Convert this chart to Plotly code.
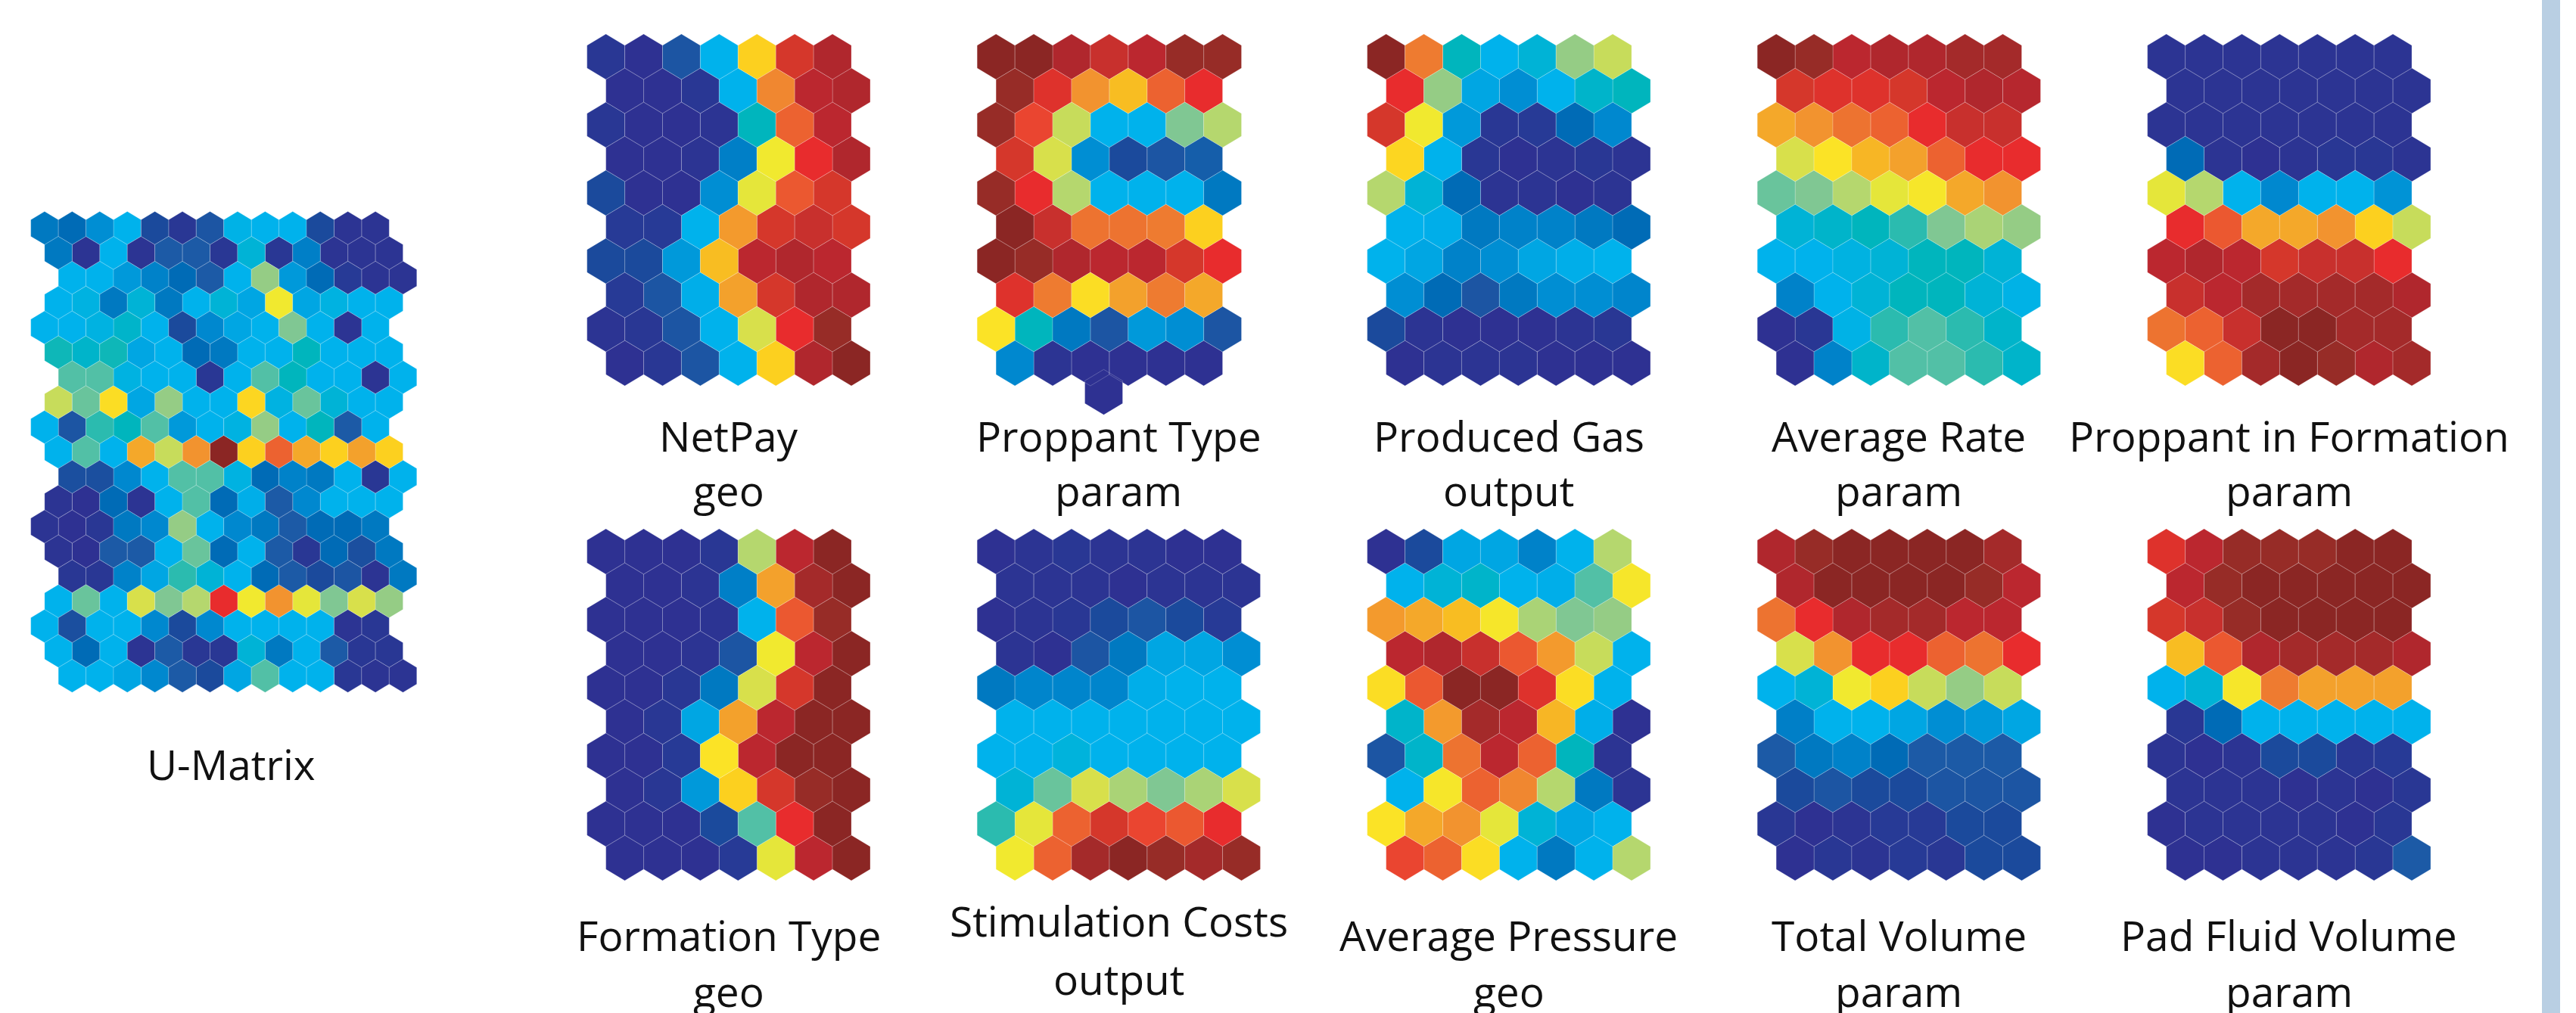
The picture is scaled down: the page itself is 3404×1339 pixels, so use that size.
import plotly.graph_objects as go

W, H = 3404, 1339

# ---------------------------------------------------------------------------
# Data: SOM component planes (10 rows x 7 nodes, hexagonal lattice) and the
# U-matrix (19 x 13).  Values are normalised 0..100 on a jet-like scale.
# None marks a node that is not drawn.
# ---------------------------------------------------------------------------
plane_titles = ["NetPay", "Proppant Type", "Produced Gas", "Average Rate",
                "Proppant in Formation", "Formation Type", "Stimulation Costs",
                "Average Pressure", "Total Volume", "Pad Fluid Volume"]
plane_kinds = ["geo", "param", "output", "param", "param",
               "geo", "output", "geo", "param", "param"]

netpay = [
    [2, 0, 10, 32, 69, 90, 96],
    [0, 0, 2, 32, 79, 94, 96],
    [2, 0, 0, 1, 40, 83, 94],
    [0, 0, 1, 20, 64, 88, 96],
    [8, 0, 0, 24, 62, 84, 90],
    [3, 3, 32, 77, 90, 92, 90],
    [8, 8, 26, 72, 94, 96, 94],
    [3, 10, 31, 76, 90, 96, 96],
    [1, 2, 10, 32, 60, 88, 98.5],
    [0, 2, 10, 32, 69, 96, 100],
]
proppant_type = [
    [100, 100, 96, 92, 94, 98.5, 98.5],
    [98.5, 89, 78, 72, 83, 88, None],
    [98.5, 86, 58, 32, 32, 50, 56],
    [90, 60, 24, 8, 10, 12, None],
    [98.5, 88, 56, 32, 32, 32, 18],
    [100, 92, 81, 81, 80, 69, None],
    [100, 98.5, 96, 94, 94, 90, 88],
    [89, 80, 67, 76, 80, 75, None],
    [66, 40, 18, 10, 26, 24, 10],
    [23, 1, 0, 0, 0, 0, 0],
]
produced_gas = [
    [100, 80, 40, 32, 36, 53, 58],
    [88, 53, 29, 24, 32, 38, 40],
    [90, 64, 26, 2, 3, 15, 23],
    [68, 32, 2, 0, 1, 2, 1],
    [56, 36, 15, 1, 1, 0, 1],
    [32, 31, 18, 21, 21, 18, 15],
    [32, 29, 21, 24, 29, 31, 32],
    [24, 15, 10, 18, 24, 24, 22],
    [8, 1, 0, 0, 0, 1, 2],
    [0, 1, 1, 1, 0, 0, 0],
]
average_rate = [
    [100, 98.5, 94, 96, 96, 97, 97],
    [90, 89, 89, 90, 94, 96, 95],
    [75, 78, 81, 83, 88, 92, 92],
    [60, 66, 73, 76, 83, 88, 88],
    [48, 50, 56, 62, 65, 75, 78],
    [36, 38, 40, 43, 50, 55, 53],
    [32, 32, 34, 36, 40, 40, 36],
    [21, 32, 36, 40, 40, 36, 33],
    [0, 2, 33, 43, 46, 43, 38],
    [0, 21, 38, 46, 46, 43, 38],
]
proppant_in_formation = [
    [1, 1, 1, 1, 1, 1, 1],
    [1, 1, 1, 1, 1, 1, 1],
    [1, 1, 1, 1, 1, 1, 1],
    [15, 1, 0, 1, 2, 2, 1],
    [62, 56, 32, 23, 32, 32, 25],
    [88, 84, 75, 75, 78, 69, 58],
    [94, 96, 94, 90, 92, 92, 88],
    [92, 94, 97, 97, 97, 97, 96],
    [81, 83, 92, 100, 100, 97, 97],
    [67, 83, 97, 100, 98.5, 96, 97],
]
formation_type = [
    [0, 0, 0, 2, 56, 94, 100],
    [0, 0, 1, 20, 76, 97, 100],
    [0, 0, 0, 1, 32, 84, 98.5],
    [0, 0, 1, 10, 64, 94, 100],
    [0, 0, 2, 18, 60, 90, 100],
    [0, 2, 29, 76, 94, 100, 100],
    [0, 0, 3, 66, 94, 100, 100],
    [0, 2, 26, 69, 90, 98.5, 100],
    [0, 0, 0, 8, 46, 88, 100],
    [0, 0, 0, 3, 62, 94, 100],
]
stimulation_costs = [
    [0, 1, 2, 1, 1, 0, 0],
    [1, 1, 1, 0, 1, 1, 1],
    [0, 1, 2, 8, 10, 8, 3],
    [1, 0, 10, 18, 29, 29, 24],
    [18, 22, 22, 22, 31, 32, 32],
    [32, 32, 32, 32, 32, 32, 32],
    [32, 32, 35, 32, 32, 32, 32],
    [36, 48, 60, 55, 50, 55, 60],
    [43, 62, 83, 90, 86, 84, 88],
    [64, 83, 97, 100, 98.5, 97, 98.5],
]
average_pressure = [
    [0, 8, 29, 29, 21, 32, 56],
    [32, 36, 38, 32, 31, 46, 65],
    [77, 75, 72, 65, 55, 50, 53],
    [94, 96, 92, 84, 77, 58, 32],
    [67, 84, 100, 100, 89, 67, 32],
    [38, 77, 97, 94, 73, 31, 0],
    [10, 38, 81, 94, 83, 40, 1],
    [32, 65, 83, 79, 56, 18, 1],
    [66, 75, 78, 62, 36, 29, 32],
    [86, 83, 67, 32, 18, 32, 56],
]
total_volume = [
    [96, 98.5, 100, 100, 100, 100, 97],
    [96, 100, 100, 100, 100, 98.5, 94],
    [81, 88, 96, 97, 97, 94, 94],
    [60, 78, 88, 88, 83, 81, 88],
    [32, 36, 64, 69, 58, 53, 58],
    [20, 32, 32, 29, 24, 26, 29],
    [11, 18, 21, 15, 11, 11, 11],
    [8, 10, 8, 8, 10, 10, 10],
    [2, 0, 1, 3, 3, 8, 8],
    [0, 2, 1, 3, 2, 8, 8],
]
pad_fluid_volume = [
    [89, 94, 98.5, 98.5, 98.5, 100, 100],
    [94, 98.5, 100, 100, 100, 100, 100],
    [90, 92, 98.5, 100, 100, 100, 100],
    [72, 84, 96, 97, 97, 97, 96],
    [32, 36, 65, 80, 76, 76, 76],
    [2, 15, 32, 32, 32, 32, 32],
    [1, 0, 1, 8, 8, 2, 3],
    [1, 1, 1, 0, 1, 0, 2],
    [0, 1, 1, 1, 1, 0, 2],
    [0, 0, 1, 1, 1, 2, 11],
]
planes = [netpay, proppant_type, produced_gas, average_rate, proppant_in_formation,
          formation_type, stimulation_costs, average_pressure, total_volume,
          pad_fluid_volume]

u_matrix = [
    [18, 15, 24, 32, 8, 2, 10, 33, 32, 32, 8, 1, 1],
    [18, 1, 32, 1, 11, 11, 2, 36, 2, 20, 1, 1, 1],
    [32, 32, 26, 21, 15, 11, 32, 53, 26, 15, 3, 1, 1],
    [32, 34, 18, 36, 18, 32, 36, 29, 64, 29, 34, 32, 32],
    [32, 32, 34, 38, 32, 8, 23, 29, 32, 50, 32, 1, 32],
    [41, 38, 41, 29, 32, 15, 18, 32, 32, 40, 32, 32, 32],
    [46, 46, 34, 32, 32, 2, 32, 46, 40, 32, 32, 1, 32],
    [58, 48, 67, 29, 53, 32, 32, 68, 34, 48, 36, 32, 32],
    [32, 10, 43, 40, 46, 26, 32, 34, 53, 32, 40, 11, 32],
    [32, 46, 32, 75, 58, 78, 100, 69, 83, 75, 69, 76, 69],
    [9, 9, 23, 32, 46, 46, 34, 15, 21, 18, 32, 2, 32],
    [1, 0, 15, 1, 32, 46, 15, 31, 11, 23, 32, 32, 32],
    [1, 0, 2, 18, 23, 53, 32, 23, 18, 11, 15, 15, 18],
    [1, 0, 11, 11, 32, 48, 15, 32, 11, 2, 15, 9, 18],
    [2, 2, 21, 29, 43, 36, 32, 15, 11, 8, 10, 1, 18],
    [32, 48, 32, 60, 50, 56, 88, 64, 78, 62, 50, 60, 53],
    [32, 9, 32, 32, 23, 8, 23, 32, 32, 32, 32, 1, 2],
    [32, 15, 32, 1, 11, 2, 2, 36, 18, 32, 11, 2, 2],
    [32, 32, 29, 23, 11, 8, 29, 46, 32, 32, 2, 1, 1],
]

# Jet-like print colour scale (position on the 0..100 scale, colour)
colour_scale = [
    (0, "#2e3192"), (8, "#1b4a9c"), (11, "#1c5aa6"), (15, "#006bb6"),
    (18, "#0079c1"), (23, "#0088cf"), (26, "#0099da"), (29, "#00a6e3"),
    (32, "#00b2ec"), (36, "#00b3d6"), (40, "#00b5bd"), (43, "#2bbbaf"),
    (46, "#52c0a6"), (50, "#80c793"), (53, "#95cc85"), (56, "#b5d76e"),
    (58, "#c7dc5b"), (60, "#d8e04b"), (62, "#e5e63a"), (64, "#f1e92f"),
    (66, "#fbe326"), (69, "#fcd01f"), (72, "#f8bd22"), (75, "#f4a82a"),
    (78, "#f2932f"), (80, "#ee7b30"), (83, "#ec6230"), (86, "#ea4530"),
    (88, "#e82c2d"), (90, "#d5372b"), (92, "#c8302d"), (94, "#bb272f"),
    (96, "#b0272d"), (97, "#a42a2a"), (98.5, "#972c27"), (100, "#8b2624"),
]


def to_rgb(h):
    h = h.lstrip("#")
    return tuple(int(h[i:i + 2], 16) for i in (0, 2, 4))


def colour_of(v):
    for (p0, c0), (p1, c1) in zip(colour_scale[:-1], colour_scale[1:]):
        if p0 <= v <= p1:
            t = 0 if p1 == p0 else (v - p0) / (p1 - p0)
            a, b = to_rgb(c0), to_rgb(c1)
            r, g, bl = (round(a[i] + (b[i] - a[i]) * t) for i in range(3))
            return f"rgb({r},{g},{bl})"
    return "rgb(139,38,36)" if v > 100 else "rgb(46,49,146)"


# ---------------------------------------------------------------------------
# Layout (pixel space of the page)
# ---------------------------------------------------------------------------
PLANE_X0 = [775.7 + 515.5 * k for k in range(5)]
PLANE_Y0 = [45.0, 699.0]
P_PITCH_X, P_PITCH_Y, P_HW, P_R = 49.9, 45.0, 24.95, 30.0

U_X0, U_Y0 = 40.7, 279.5
U_PITCH_X, U_PITCH_Y = 36.43, 32.88
U_HW, U_R = 36.43 / 2, 32.88 / 1.5
U_ROW_SHIFT = [0.0, 0.5, 1.0, 0.5]

# one cell of "Proppant Type" sits displaced below its row
DISPLACED = {(1, 9, 6): (-182.0, 38.3)}

polys = {}


def add_hex(cx, cy, hw, r, v):
    c = colour_of(v)
    xs, ys = polys.setdefault(c, ([], []))
    xs += [cx, cx + hw, cx + hw, cx, cx - hw, cx - hw, cx, None]
    ys += [cy - r, cy - r / 2, cy + r / 2, cy + r, cy + r / 2, cy - r / 2, cy - r, None]


for k, grid in enumerate(planes):
    x0 = PLANE_X0[k % 5]
    y0 = PLANE_Y0[k // 5]
    for r, row in enumerate(grid):
        for c, v in enumerate(row):
            if v is None:
                continue
            cx = x0 + P_HW + c * P_PITCH_X + (P_HW if r % 2 else 0)
            cy = y0 + P_R + r * P_PITCH_Y
            dx, dy = DISPLACED.get((k, r, c), (0, 0))
            add_hex(cx + dx, cy + dy, P_HW, P_R, v)

for r, row in enumerate(u_matrix):
    for c, v in enumerate(row):
        cx = U_X0 + U_HW + (c + U_ROW_SHIFT[r % 4]) * U_PITCH_X
        cy = U_Y0 + U_R + r * U_PITCH_Y
        add_hex(cx, cy, U_HW, U_R, v)

fig = go.Figure()
for c, (xs, ys) in polys.items():
    fig.add_trace(go.Scatter(
        x=xs, y=ys, mode="lines", fill="toself", fillcolor=c,
        line=dict(color="rgba(255,255,255,0.22)", width=1),
        hoverinfo="skip", showlegend=False))

# labels
FONT = dict(family="Open Sans, Lato, sans-serif", size=55, color="#111111")
label_y = [(575, 647), (1235, 1309)]
label_shift = {6: -19}
for k in range(10):
    xc = PLANE_X0[k % 5] + (7 * P_PITCH_X + P_HW) / 2
    y1, y2 = label_y[k // 5]
    s = label_shift.get(k, 0)
    fig.add_annotation(x=xc, y=y1 + s, text=plane_titles[k], showarrow=False,
                       xanchor="center", yanchor="middle", font=FONT)
    fig.add_annotation(x=xc, y=y2 + s * 0.8, text=plane_kinds[k], showarrow=False,
                       xanchor="center", yanchor="middle", font=FONT)

fig.add_annotation(x=305, y=1009, text="U-Matrix", showarrow=False,
                   xanchor="center", yanchor="middle", font=FONT)

# light vertical rule at the right edge
fig.add_shape(type="rect", x0=3359, x1=3383, y0=0, y1=H, xref="x", yref="y",
              fillcolor="#b9cfe3", line=dict(width=0), layer="below")

fig.update_xaxes(range=[0, W], visible=False, fixedrange=True)
fig.update_yaxes(range=[H, 0], visible=False, fixedrange=True)
fig.update_layout(width=W, height=H, margin=dict(l=0, r=0, t=0, b=0),
                  paper_bgcolor="white", plot_bgcolor="white")

fig.write_html("out.html")
